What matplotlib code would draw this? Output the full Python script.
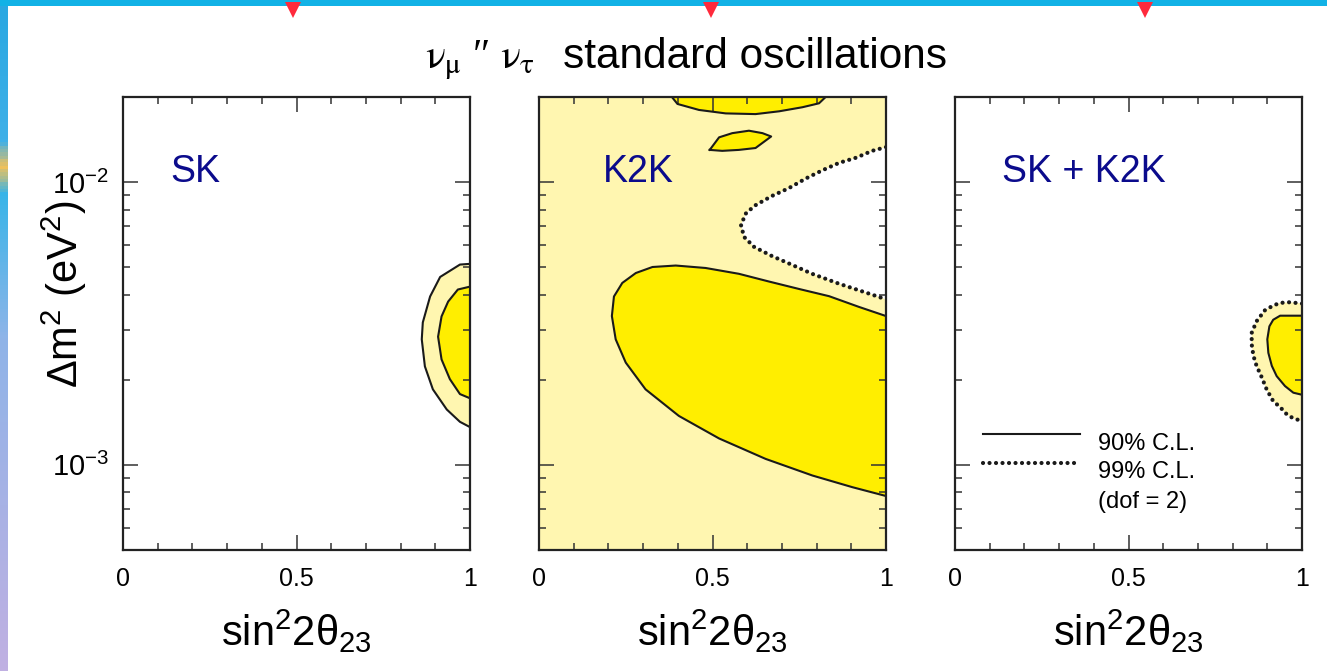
import numpy as np
import matplotlib
matplotlib.use("Agg")
import matplotlib.pyplot as plt
from matplotlib.patches import Polygon, Rectangle
from matplotlib.colors import LinearSegmentedColormap
from matplotlib.ticker import FixedLocator, MultipleLocator, LogLocator, NullFormatter

plt.rcParams['font.family'] = ['Liberation Sans', 'DejaVu Sans']
plt.rcParams['mathtext.fontset'] = 'custom'
plt.rcParams['mathtext.rm'] = 'Liberation Sans'
plt.rcParams['mathtext.it'] = 'Liberation Sans:italic'
plt.rcParams['mathtext.bf'] = 'Liberation Sans:bold'

LIGHT = '#fff6b0'
BRIGHT = '#ffee00'
NAVY = '#0b0b8c'

# --- SK alone: 99% and 90% C.L. contours (sin^2 2theta, dm^2 in eV^2)
sk99_x = [1.0, 0.971, 0.914, 0.885, 0.864, 0.861, 0.870, 0.893, 0.933, 0.971, 1.0]
sk99_y = [5.14e-3, 5.11e-3, 4.62e-3, 3.94e-3, 3.19e-3, 2.78e-3, 2.23e-3, 1.85e-3, 1.57e-3, 1.42e-3, 1.36e-3]
sk90_x = [1.0, 0.965, 0.937, 0.918, 0.908, 0.918, 0.942, 0.971, 1.0]
sk90_y = [4.27e-3, 4.17e-3, 3.78e-3, 3.35e-3, 2.84e-3, 2.36e-3, 2.01e-3, 1.78e-3, 1.72e-3]

# --- K2K alone
# 99% boundary of the excluded (white) region
k2k99_x = [1.0, 0.960, 0.914, 0.865, 0.816, 0.769, 0.720, 0.671, 0.625, 0.597, 0.582,
           0.591, 0.620, 0.671, 0.729, 0.787, 0.865, 0.960, 1.0]
k2k99_y = [1.33e-2, 1.29e-2, 1.22e-2, 1.17e-2, 1.10e-2, 1.03e-2, 9.52e-3, 8.93e-3, 8.30e-3, 7.78e-3, 7.06e-3,
           6.40e-3, 5.90e-3, 5.48e-3, 5.10e-3, 4.74e-3, 4.37e-3, 4.00e-3, 3.85e-3]
# 90% main allowed region
k2k90_x = [1.0, 0.922, 0.836, 0.749, 0.663, 0.576, 0.480, 0.394, 0.327, 0.279, 0.240, 0.216, 0.210,
           0.221, 0.250, 0.307, 0.403, 0.519, 0.653, 0.788, 0.903, 1.0]
k2k90_y = [3.36e-3, 3.62e-3, 3.95e-3, 4.19e-3, 4.45e-3, 4.74e-3, 4.97e-3, 5.07e-3, 5.01e-3, 4.77e-3, 4.40e-3,
           3.94e-3, 3.36e-3, 2.78e-3, 2.30e-3, 1.85e-3, 1.49e-3, 1.24e-3, 1.05e-3, 9.17e-4, 8.34e-4, 7.76e-4]
# 90% region at the top
k2k90top_x = [0.383, 0.399, 0.461, 0.538, 0.624, 0.692, 0.759, 0.807, 0.826]
k2k90top_y = [2.0e-2, 1.89e-2, 1.80e-2, 1.75e-2, 1.74e-2, 1.78e-2, 1.84e-2, 1.90e-2, 2.0e-2]
# 90% island
k2k90isl_x = [0.492, 0.519, 0.557, 0.605, 0.644, 0.669, 0.624, 0.576, 0.528]
k2k90isl_y = [1.30e-2, 1.44e-2, 1.49e-2, 1.52e-2, 1.49e-2, 1.45e-2, 1.32e-2, 1.30e-2, 1.29e-2]

# --- SK + K2K combined
comb99_x = [1.0, 0.965, 0.937, 0.917, 0.893, 0.869, 0.855, 0.855, 0.860, 0.869, 0.884,
            0.898, 0.917, 0.937, 0.956, 0.975, 1.0]
comb99_y = [3.72e-3, 3.76e-3, 3.74e-3, 3.66e-3, 3.52e-3, 3.22e-3, 2.93e-3, 2.67e-3, 2.43e-3, 2.24e-3, 2.04e-3,
            1.85e-3, 1.68e-3, 1.60e-3, 1.51e-3, 1.46e-3, 1.43e-3]
comb90_x = [1.0, 0.937, 0.917, 0.906, 0.900, 0.903, 0.913, 0.927, 0.951, 0.975, 1.0]
comb90_y = [3.37e-3, 3.37e-3, 3.26e-3, 3.09e-3, 2.78e-3, 2.49e-3, 2.24e-3, 2.06e-3, 1.90e-3, 1.80e-3, 1.77e-3]

panel_labels = ['SK', 'K2K', 'SK + K2K']
x_ticks = [0, 0.5, 1]
x_ticklabels = ['0', '0.5', '1']
legend_labels = ['90% C.L.', '99% C.L.', '(dof = 2)']

SOLID = dict(color='#1a1a1a', lw=1.5)
DOTTED = dict(color='#1a1a1a', lw=3.0, linestyle=(0, (0.01, 1.55)), dash_capstyle='round')

W, H = 1327, 671
fig = plt.figure(figsize=(W / 100, H / 100), dpi=100)

# slide decorations
fig.add_artist(Rectangle((0, 1 - 6 / H), 1, 6 / H, transform=fig.transFigure,
                         color='#12b2e6', lw=0))
strip = fig.add_axes([0, 0, 8 / W, 1 - 6 / H])
cmap = LinearSegmentedColormap.from_list(
    'strip', [(0, '#2aa8e2'), (0.2, '#3fb0e8'), (0.24, '#f2c25a'), (0.28, '#38b4e8'),
              (0.5, '#8fb4e8'), (1, '#c0b0e2')])
strip.imshow(np.linspace(0, 1, 200)[:, None], aspect='auto', cmap=cmap)
strip.axis('off')
for xp in [293, 711, 1145]:
    fig.add_artist(Polygon([((xp - 8) / W, 1 - 2 / H), ((xp + 8) / W, 1 - 2 / H),
                            (xp / W, 1 - 18 / H)], closed=True,
                           transform=fig.transFigure, color='#ff2a3c', lw=0))

lefts = [123, 539, 955]
axes = [fig.add_axes([l / W, (H - 550) / H, 347 / W, 453 / H]) for l in lefts]


def style(ax, first):
    ax.set_xlim(0, 1)
    ax.set_yscale('log')
    ax.set_ylim(5e-4, 2e-2)
    ax.xaxis.set_major_locator(FixedLocator(x_ticks))
    ax.set_xticklabels(x_ticklabels)
    ax.xaxis.set_minor_locator(MultipleLocator(0.1))
    ax.yaxis.set_major_locator(LogLocator(base=10))
    ax.yaxis.set_minor_locator(LogLocator(base=10, subs=np.arange(2, 10)))
    ax.yaxis.set_minor_formatter(NullFormatter())
    ax.tick_params(which='both', direction='in', top=True, right=True, width=1.1, color='#333333')
    ax.tick_params(which='major', length=11)
    ax.tick_params(which='minor', length=5)
    ax.tick_params(axis='x', labelsize=18, pad=12)
    ax.tick_params(axis='y', labelsize=21, pad=10, labelleft=first)
    for s in ax.spines.values():
        s.set_linewidth(1.6)
        s.set_color('#222222')
    ax.set_xlabel(r'sin$^2$2θ$_{23}$', fontsize=30, va='center')
    ax.xaxis.set_label_coords(0.5, -0.18)


# SK
ax = axes[0]
ax.fill(sk99_x, sk99_y, color=LIGHT, lw=0)
ax.fill(sk90_x, sk90_y, color=BRIGHT, lw=0)
ax.plot(sk99_x, sk99_y, **SOLID)
ax.plot(sk90_x, sk90_y, **SOLID)
style(ax, True)
ax.set_ylabel(r'Δm$^2$ (eV$^2$)', fontsize=30, va='center')
ax.yaxis.set_label_coords(-0.17, 0.565)

# K2K
ax = axes[1]
ax.set_facecolor(LIGHT)
ax.fill(k2k99_x, k2k99_y, color='white', lw=0)
ax.fill(k2k90_x, k2k90_y, color=BRIGHT, lw=0)
ax.fill(k2k90top_x, k2k90top_y, color=BRIGHT, lw=0)
ax.fill(k2k90isl_x, k2k90isl_y, color=BRIGHT, lw=0)
ax.plot(k2k99_x, k2k99_y, **DOTTED)
ax.plot(k2k90_x, k2k90_y, **SOLID)
ax.plot(k2k90top_x, k2k90top_y, **SOLID)
ax.plot(k2k90isl_x + k2k90isl_x[:1], k2k90isl_y + k2k90isl_y[:1], **SOLID)
style(ax, False)

# SK + K2K
ax = axes[2]
ax.fill(comb99_x, comb99_y, color=LIGHT, lw=0)
ax.fill(comb90_x, comb90_y, color=BRIGHT, lw=0)
ax.plot(comb99_x, comb99_y, **DOTTED)
ax.plot(comb90_x, comb90_y, **SOLID)
style(ax, False)

# legend drawn by hand in the combined panel
ax.plot([0.081, 0.36], [0.256, 0.256], transform=ax.transAxes, **SOLID)
ax.plot([0.081, 0.36], [0.192, 0.192], transform=ax.transAxes, **DOTTED)
ax.text(0.412, 0.235, legend_labels[0], transform=ax.transAxes, fontsize=17, va='center')
ax.text(0.412, 0.172, legend_labels[1], transform=ax.transAxes, fontsize=17, va='center')
ax.text(0.412, 0.105, legend_labels[2], transform=ax.transAxes, fontsize=17, va='center')

for ax, lab in zip(axes, panel_labels):
    ax.text(0.135 if lab != 'K2K' else 0.184, 0.834, lab, transform=ax.transAxes,
            fontsize=27, color=NAVY, va='center')

# title
fig.text(425 / W, 1 - 68 / H, r'$\mathrm{\nu}_{\mathrm{\mu}}$ ″ $\mathrm{\nu}_{\mathrm{\tau}}$', fontsize=30,
         ha='left', va='baseline', family=['Liberation Serif', 'DejaVu Serif'], math_fontfamily='stix')
fig.text(563 / W, 1 - 68 / H, 'standard oscillations', fontsize=30.5, ha='left', va='baseline')

fig.savefig('out.png', dpi=100)
